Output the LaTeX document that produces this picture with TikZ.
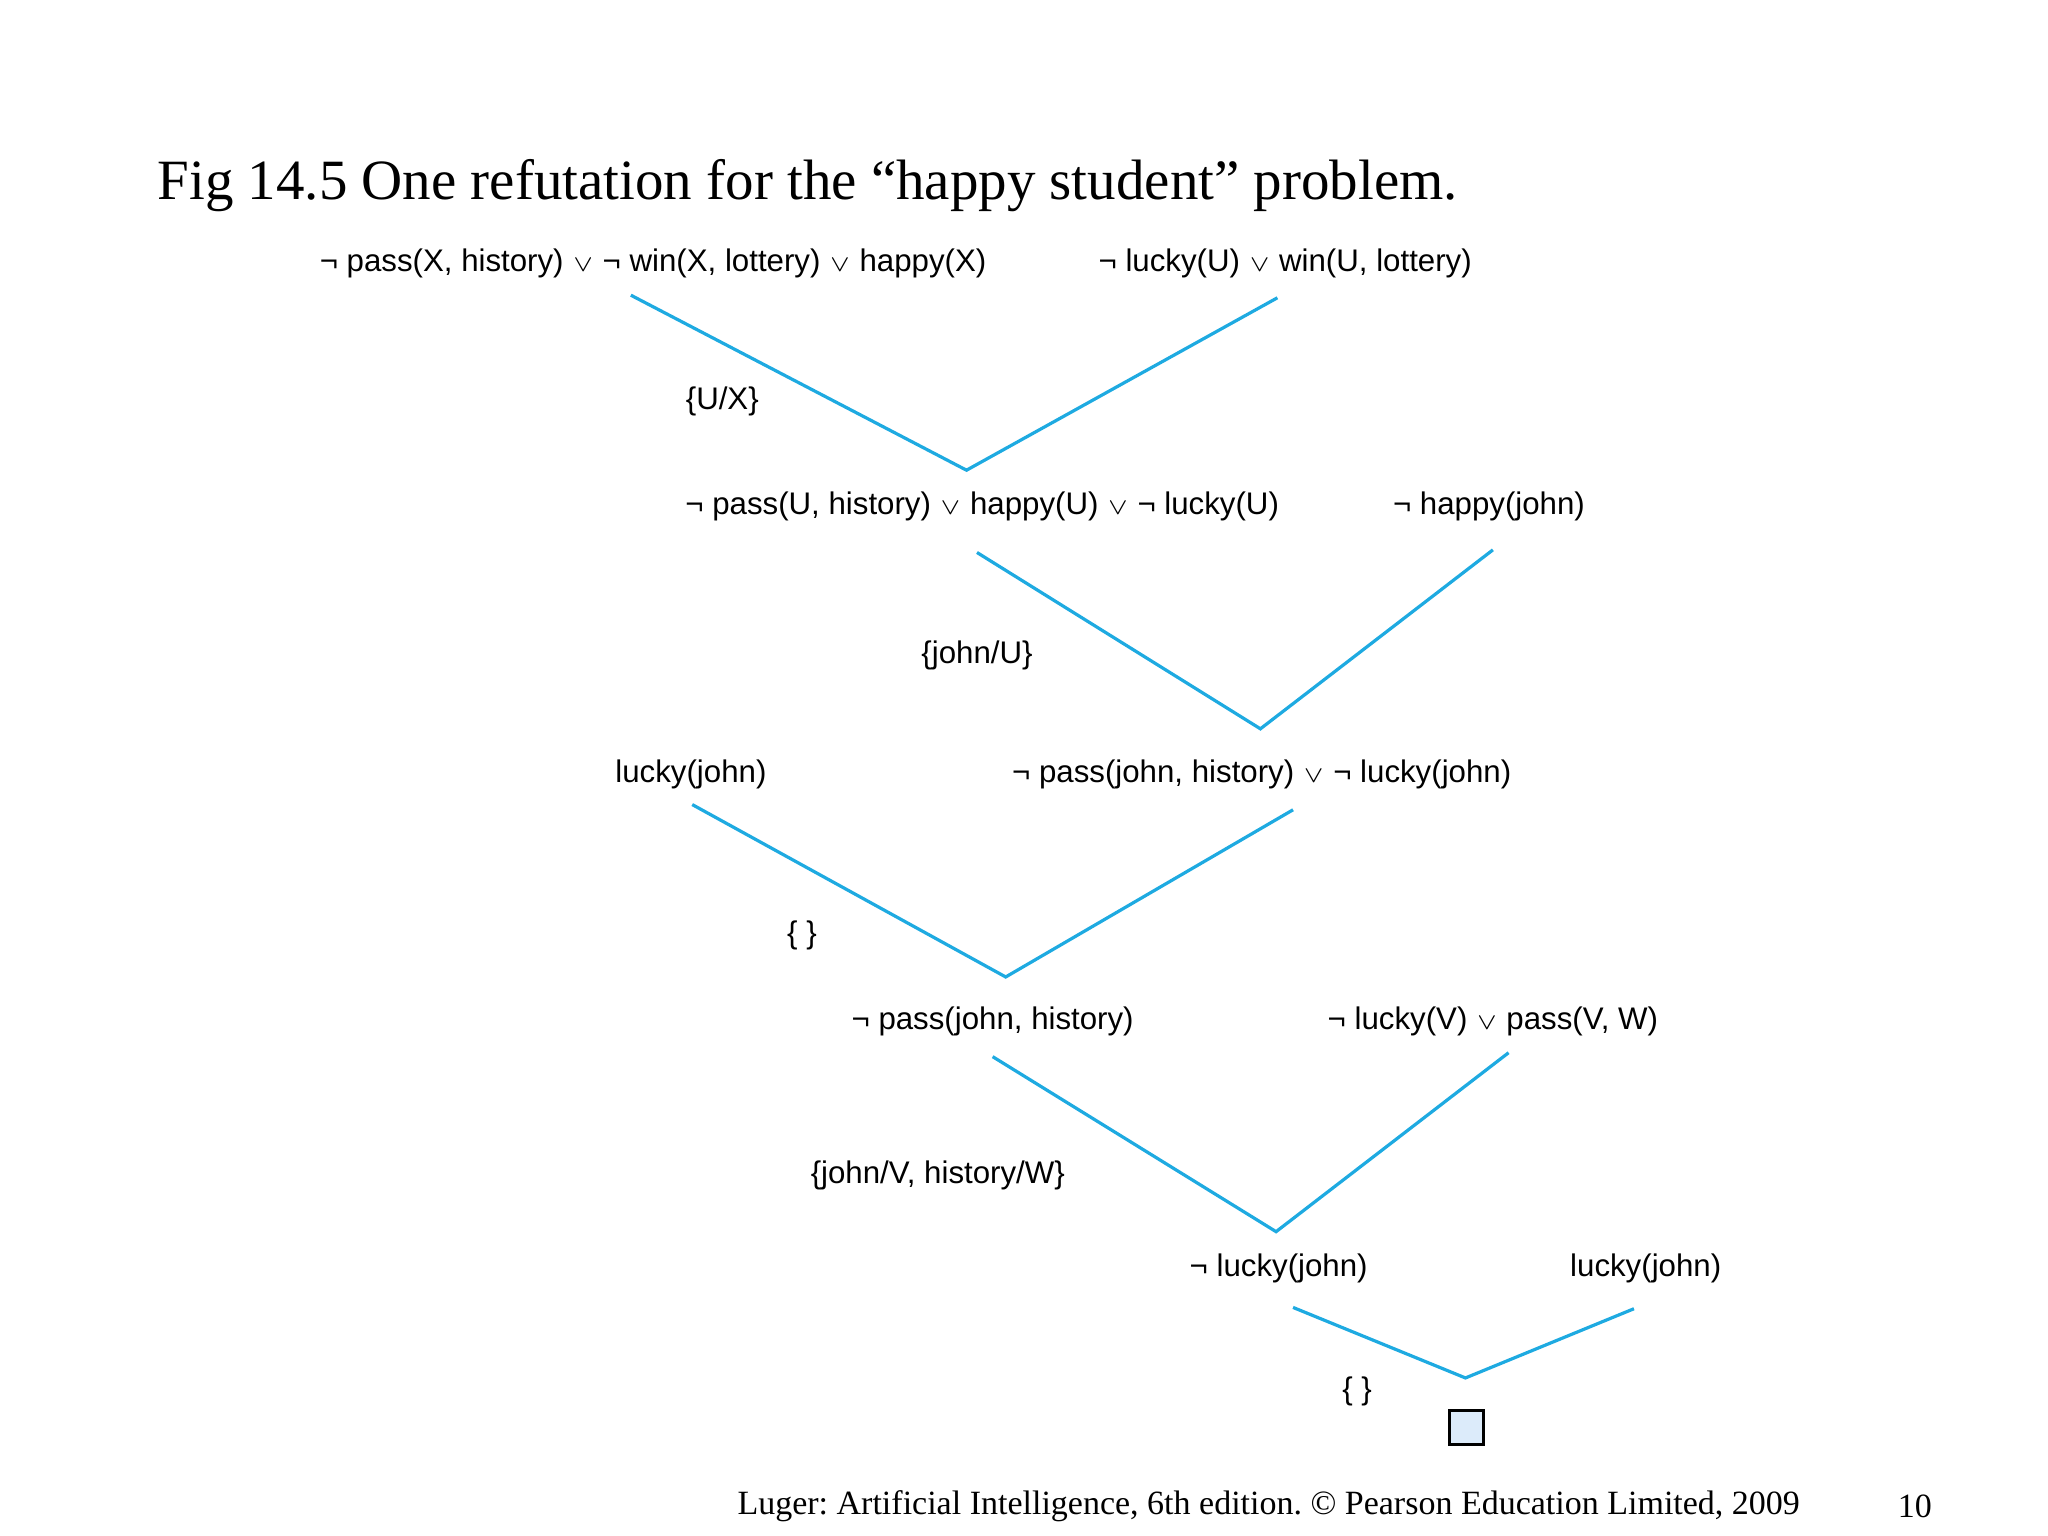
\documentclass[tikz,border=0pt]{standalone}
\usepackage{fontspec}
\setmainfont{Liberation Serif}
\newfontfamily\cl{Liberation Sans}
\frenchspacing
\begin{document}
\begin{tikzpicture}[x=0.01cm,y=-0.01cm,
 cls/.style={font=\cl\fontsize{6.8}{8}\selectfont,inner sep=0pt},
 edge/.style={draw={rgb,255:red,30;green,170;blue,225},line width=0.7pt}]
\useasboundingbox (0,0) rectangle (1568,1176);
\newcommand{\orr}{\ensuremath{\scriptstyle\vee}}
\node[font=\fontsize{12.4}{14}\selectfont,anchor=west,inner sep=0pt] (title) at (120,142) {Fig 14.5 One refutation for the “happy student” problem.};
\node[cls] (c1) at (500,202) {¬ pass(X, history) \orr{} ¬ win(X, lottery) \orr{} happy(X)};
\node[cls] (c2) at (984,202) {¬ lucky(U) \orr{} win(U, lottery)};
\node[cls] (c3) at (752,388) {¬ pass(U, history) \orr{} happy(U) \orr{} ¬ lucky(U)};
\node[cls] (c4) at (1140,388) {¬ happy(john)};
\node[cls] (c5) at (529,593) {lucky(john)};
\node[cls] (c6) at (966,593) {¬ pass(john, history) \orr{} ¬ lucky(john)};
\node[cls] (c7) at (760,782) {¬ pass(john, history)};
\node[cls] (c8) at (1143,782) {¬ lucky(V) \orr{} pass(V, W)};
\node[cls] (c9) at (979,971) {¬ lucky(john)};
\node[cls] (c10) at (1260,971) {lucky(john)};
\node[cls] (s1) at (553,307) {\{U/X\}};
\node[cls] (s2) at (748,502) {\{john/U\}};
\node[cls] (s3) at (614,716) {\{ \}};
\node[cls] (s4) at (718,900) {\{john/V, history/W\}};
\node[cls] (s5) at (1039,1065) {\{ \}};
\node[draw=black,fill={rgb,255:red,220;green,235;blue,250},minimum size=0.26cm,inner sep=0pt,line width=0.6pt] (box) at (1123,1093) {};
\coordinate (a1) at (483,226); \coordinate (b1) at (978,228); \coordinate (v1) at (740,360);
\coordinate (a2) at (748,423); \coordinate (b2) at (1143,421); \coordinate (v2) at (965,558);
\coordinate (a3) at (530,616); \coordinate (b3) at (990,620); \coordinate (v3) at (770,748);
\coordinate (a4) at (760,809); \coordinate (b4) at (1155,806); \coordinate (v4) at (977,943);
\coordinate (a5) at (990,1001); \coordinate (b5) at (1251,1002); \coordinate (v5) at (1122,1055);
\foreach \i in {1,...,5}{\draw[edge] (a\i) -- (v\i) -- (b\i);}
\node[font=\fontsize{7.4}{9}\selectfont,anchor=west,inner sep=0pt] (foot) at (564,1153) {Luger: Artificial Intelligence, 6th edition. © Pearson Education Limited, 2009};
\node[font=\fontsize{7.4}{9}\selectfont,inner sep=0pt] (pg) at (1466,1153) {10};
\end{tikzpicture}
\end{document}
